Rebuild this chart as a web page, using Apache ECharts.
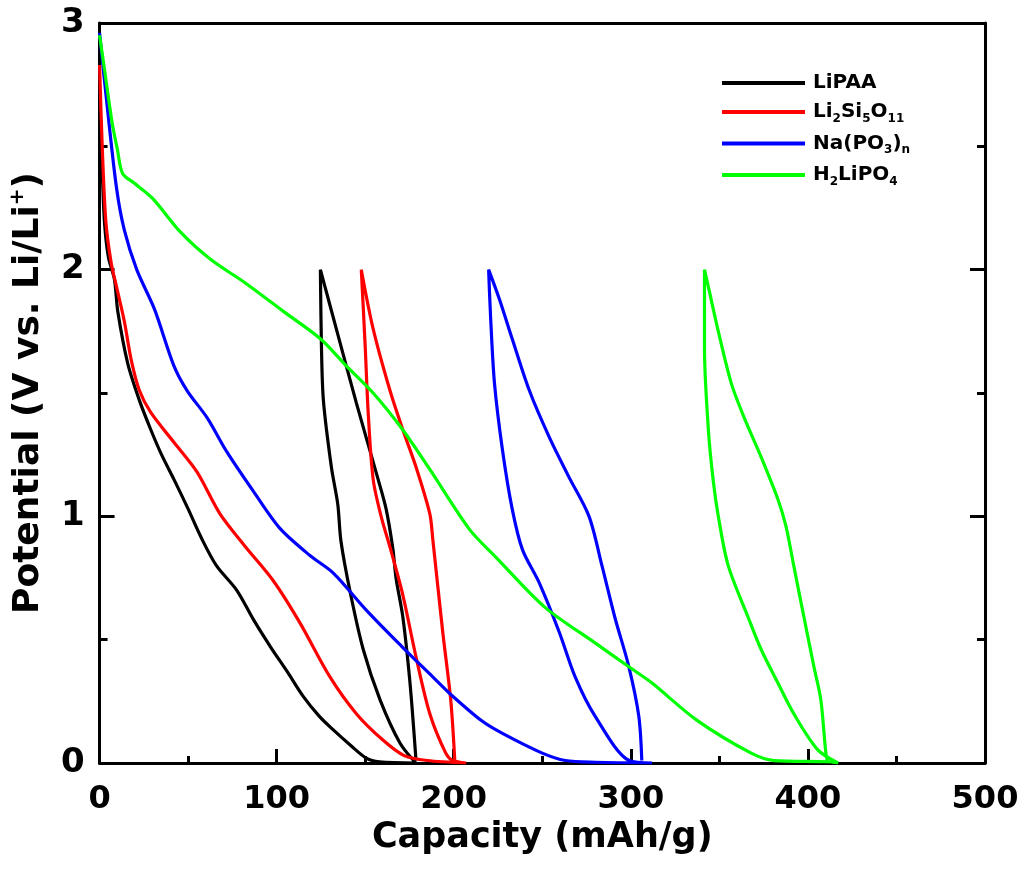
<!DOCTYPE html>
<html>
<head>
<meta charset="utf-8">
<script src="https://cdn.jsdelivr.net/npm/echarts@6/dist/echarts.min.js"></script>
<style>
  html, body { margin: 0; padding: 0; background: #fff; }
  #chart { width: 1023px; height: 878px; }
</style>
</head>
<body>
<div id="chart"></div>
<script>
// capacity (mAh/g) and potential (V), in drawing order:
// 1st discharge -> charge (back to the 2 V peak) -> 2nd discharge
const lipaaCap = [0, 1.5, 2.8, 5, 8.4, 10.3, 15.9, 22.5, 29, 35, 42, 50, 58, 66, 77.5, 87, 96.6, 106, 115, 124, 132, 142, 150.6, 158, 178.6,
    169.7, 158.4, 148.9, 141.6, 136.3, 134.5, 130.9, 126.4, 125.3, 124.7,
    133.7, 145, 157.3, 161.8, 165.7, 167.4, 171.3, 175.3, 178.7];
const lipaaV = [2.64, 2.4, 2.19, 2.05, 1.96, 1.83, 1.62, 1.47, 1.35, 1.25, 1.15, 1.03, 0.905, 0.8, 0.70, 0.58, 0.47, 0.37, 0.27, 0.19, 0.134, 0.07, 0.02, 0.005, 0,
    0.08, 0.256, 0.46, 0.69, 0.9, 1.05, 1.2, 1.47, 1.69, 2.0,
    1.76, 1.46, 1.15, 1.03, 0.865, 0.75, 0.59, 0.325, 0.01];

const lssoCap = [0, 1.5, 3.5, 6.5, 9.6, 14, 18, 22.5, 29, 42, 55, 68, 82, 98, 113, 130, 145, 160, 172, 185, 207,
    199.4, 195.5, 186.5, 178.7, 171.3, 164.6, 159, 154.5, 151.7, 150, 147.8,
    154.5, 164, 171.3, 178.7, 186.5, 188.2, 193.8, 198.3, 200.6];
const lssoV = [2.83, 2.5, 2.2, 2.03, 1.93, 1.79, 1.63, 1.51, 1.42, 1.30, 1.18, 1.01, 0.88, 0.74, 0.57, 0.35, 0.20, 0.093, 0.03, 0.01, 0,
    0.01, 0.04, 0.2, 0.43, 0.68, 0.86, 1.0, 1.15, 1.42, 1.69, 2.0,
    1.76, 1.51, 1.35, 1.20, 1.01, 0.905, 0.53, 0.256, 0.01];

const napoCap = [0, 4.5, 9.6, 14, 21, 31, 42, 49.4, 60.7, 72, 87, 102, 119, 132, 150.6, 171, 188, 198, 216, 227.5, 250, 263, 280, 312,
    299, 279.8, 268.5, 259.6, 248.3, 238.8, 233, 227.5, 223, 220.8, 219.7,
    225.8, 233, 242.7, 254, 265, 276.4, 283.7, 291, 298.9, 304.5, 306.2];
const napoV = [2.96, 2.65, 2.33, 2.16, 2.0, 1.84, 1.61, 1.51, 1.40, 1.26, 1.10, 0.95, 0.84, 0.77, 0.62, 0.47, 0.35, 0.28, 0.17, 0.12, 0.04, 0.01, 0.003, 0,
    0.01, 0.19, 0.35, 0.53, 0.73, 0.865, 1.03, 1.27, 1.54, 1.81, 2.0,
    1.88, 1.72, 1.51, 1.32, 1.16, 1.0, 0.80, 0.59, 0.39, 0.19, 0.01];

const hlpCap = [0, 3, 7, 10, 13, 19.7, 29.8, 46, 63, 81.5, 104, 124.7, 139.3, 154.5, 171.3, 186.5, 209, 223.6, 251.7, 279.8, 298.9, 311.8, 337, 368, 381, 411, 417,
    405.6, 392, 383, 373.6, 366.3, 355, 349.4, 346.6, 343.8, 341.6, 341.6,
    343.8, 349.4, 356.7, 364, 373.6, 383, 387.6, 392, 397.8, 403.4, 407.3, 410, 411.2];
const hlpV = [2.95, 2.8, 2.6, 2.49, 2.39, 2.35, 2.29, 2.15, 2.04, 1.95, 1.83, 1.72, 1.61, 1.50, 1.35, 1.19, 0.946, 0.836, 0.63, 0.487, 0.39, 0.325, 0.175, 0.04, 0.01, 0.005, 0,
    0.053, 0.20, 0.325, 0.46, 0.59, 0.80, 1.0, 1.14, 1.35, 1.68, 2.0,
    1.93, 1.75, 1.54, 1.40, 1.24, 1.07, 0.96, 0.80, 0.59, 0.39, 0.256, 0.05, 0];

const seriesNames = ['LiPAA', 'Li2Si5O11', 'Na(PO3)n', 'H2LiPO4'];
const seriesColors = ['#000000', '#ff0000', '#0000ff', '#00ff00'];
const xTicks = [0, 100, 200, 300, 400, 500];
const yTicks = [0, 1, 2, 3];

// rich-text versions of the legend labels (subscripts)
const legendRich = {
    'LiPAA': '{b|LiPAA}',
    'Li2Si5O11': '{b|Li}{s|2}{b|Si}{s|5}{b|O}{s|11}',
    'Na(PO3)n': '{b|Na(PO}{s|3}{b|)}{s|n}',
    'H2LiPO4': '{b|H}{s|2}{b|LiPO}{s|4}'
};

function zip(xs, ys) {
    return xs.map((x, i) => [x, ys[i]]);
}

const allData = [zip(lipaaCap, lipaaV), zip(lssoCap, lssoV), zip(napoCap, napoV), zip(hlpCap, hlpV)];

const font = 'DejaVu Sans';
const black = '#000';

const chart = echarts.init(document.getElementById('chart'), null, { renderer: 'canvas' });

const option = {
    animation: false,
    backgroundColor: '#fff',
    grid: { left: 95, right: 38, top: 23, bottom: 115 },
    legend: {
        orient: 'vertical',
        left: 722,
        top: 73,
        padding: 0,
        itemGap: 9,
        itemWidth: 83,
        itemHeight: 4,
        icon: 'rect',
        data: seriesNames,
        formatter: name => legendRich[name],
        textStyle: {
            padding: [0, 0, 0, 3],
            rich: {
                b: { fontFamily: font, fontWeight: 'bold', fontSize: 20, lineHeight: 25, color: black },
                s: { fontFamily: font, fontWeight: 'bold', fontSize: 12, lineHeight: 13, verticalAlign: 'bottom', color: black }
            }
        }
    },
    xAxis: [{
        type: 'value',
        position: 'bottom',
        min: 0,
        max: 500,
        interval: 100,
        name: 'Capacity (mAh/g)',
        nameLocation: 'middle',
        nameGap: 54,
        nameTextStyle: { fontFamily: font, fontWeight: 'bold', fontSize: 35, color: black },
        axisLine: { onZero: false, lineStyle: { color: black, width: 3 } },
        axisTick: { inside: true, length: 14, lineStyle: { color: black, width: 3 } },
        minorTick: { show: true, splitNumber: 2, length: 7, lineStyle: { color: black, width: 3 } },
        splitLine: { show: false },
        axisLabel: {
            margin: 21,
            fontFamily: font, fontWeight: 'bold', fontSize: 32, color: black,
            formatter: v => xTicks.includes(v) ? String(v) : ''
        }
    }, {
        type: 'value',
        position: 'top',
        min: 0,
        max: 500,
        axisLine: { show: true, onZero: false, lineStyle: { color: black, width: 3 } },
        axisTick: { show: false },
        axisLabel: { show: false },
        splitLine: { show: false }
    }],
    yAxis: [{
        type: 'value',
        position: 'left',
        min: 0,
        max: 3,
        interval: 1,
        name: 'Potential (V vs. Li/Li{sup|+})',
        nameLocation: 'middle',
        nameRotate: 90,
        nameGap: 36,
        nameTextStyle: {
            rich: {
                sup: { fontFamily: font, fontWeight: 'bold', fontSize: 20, lineHeight: 22, verticalAlign: 'top', color: black }
            },
            fontFamily: font, fontWeight: 'bold', fontSize: 36, lineHeight: 42, color: black
        },
        axisLine: { onZero: false, lineStyle: { color: black, width: 3 } },
        axisTick: { inside: true, length: 15, lineStyle: { color: black, width: 3 } },
        minorTick: { show: true, splitNumber: 2, length: 8, lineStyle: { color: black, width: 3 } },
        splitLine: { show: false },
        axisLabel: {
            margin: 15,
            fontFamily: font, fontWeight: 'bold', fontSize: 34, color: black,
            formatter: v => yTicks.includes(v) ? String(v) : ''
        }
    }, {
        type: 'value',
        position: 'right',
        min: 0,
        max: 3,
        interval: 1,
        axisLine: { show: true, onZero: false, lineStyle: { color: black, width: 3 } },
        axisTick: { inside: true, length: 15, lineStyle: { color: black, width: 3 } },
        minorTick: { show: true, splitNumber: 2, length: 8, lineStyle: { color: black, width: 3 } },
        axisLabel: { show: false },
        splitLine: { show: false }
    }],
    series: seriesNames.map((name, i) => ({
        name: name,
        type: 'line',
        xAxisIndex: 0,
        yAxisIndex: 0,
        data: allData[i],
        showSymbol: false,
        symbol: 'none',
        smooth: 0.3,
        clip: true,
        color: seriesColors[i],
        lineStyle: { color: seriesColors[i], width: 3.2 }
    }))
};

chart.setOption(option);
</script>
</body>
</html>
